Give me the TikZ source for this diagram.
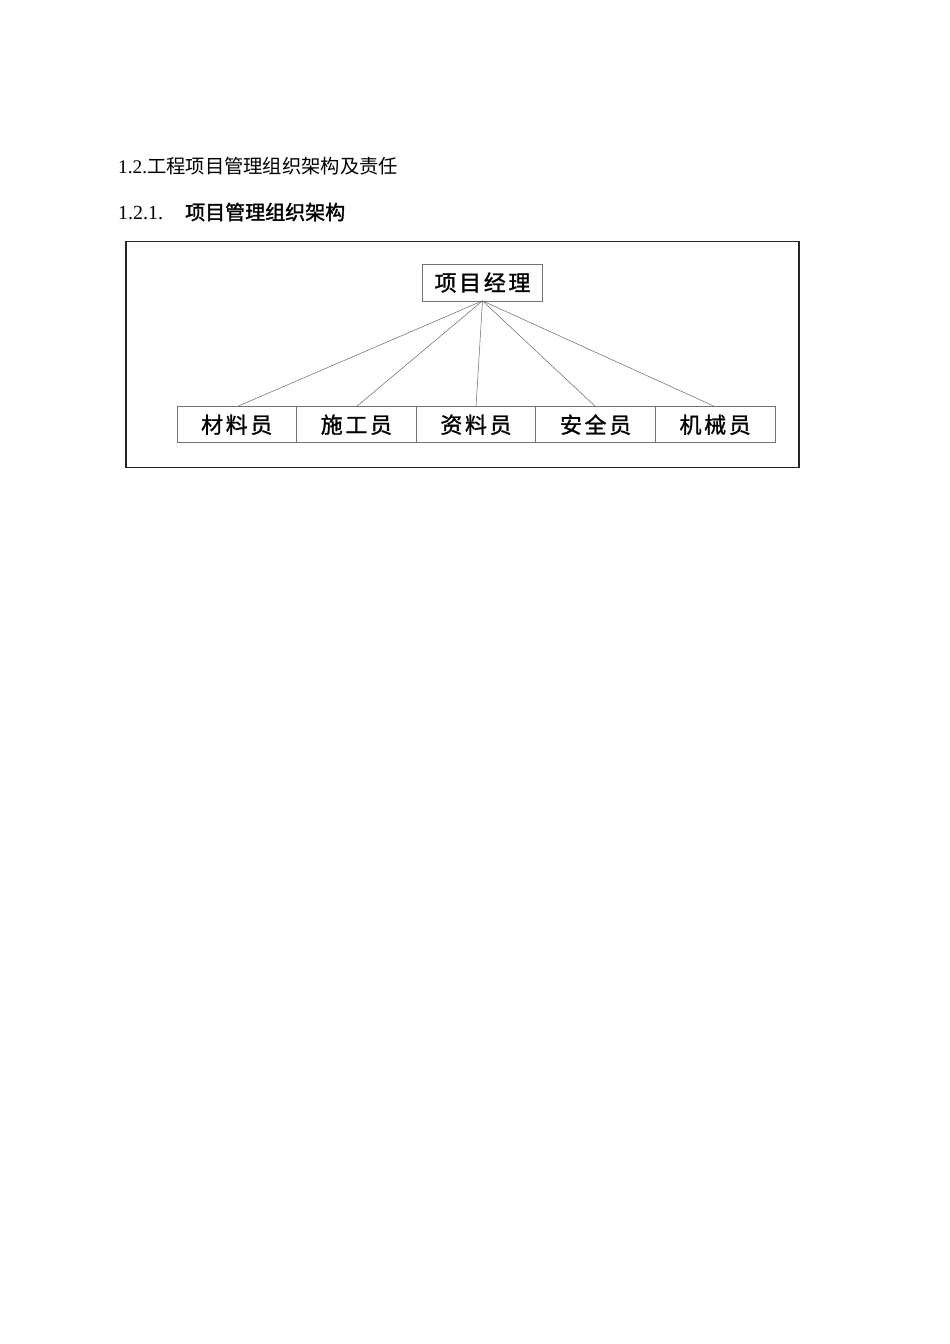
\documentclass[tikz,border=0pt]{standalone}
\usepackage{fontspec}
\setmainfont{Liberation Serif}
\newfontfamily\cjk{Noto Sans CJK SC}
\newfontfamily\cjkhead[FakeBold=1.6]{Noto Sans CJK SC}
\newfontfamily\boxcjk[LetterSpace=12,FakeBold=1.2]{Noto Sans CJK SC}
\usetikzlibrary{positioning}

\begin{document}
\begin{tikzpicture}[x=1pt,y=-1pt,
  post/.style={draw=black!55,line width=0.7pt,outer sep=0pt,inner sep=0pt,
    minimum width=119.6pt,minimum height=36pt,font=\boxcjk\fontsize{22}{22}\selectfont},
  link/.style={draw=black!60,line width=0.5pt}]
\useasboundingbox (0,0) rectangle (950,1344);

% Headings
\node[anchor=west,inner sep=0pt,font=\fontsize{19.3}{19.3}\selectfont] (h1) at (118,166)
  {1.2.{\cjk 工程项目管理组织架构及责任}};
\node[anchor=west,inner sep=0pt,font=\fontsize{20}{20}\selectfont] (h2) at (118,212)
  {1.2.1.\hspace{22pt}{\cjkhead 项目管理组织架构}};

% Frame
\draw[line width=1.3pt,black!85] (126,241.5) rectangle (799,467.5);

% Manager
\node[post,minimum width=120pt,minimum height=36.7pt] (pm) at (482.5,282.5) {项目经理};

% Staff row
\node[post] (cl) at (236.8,424.7) {材料员};
\node[post,right=0pt of cl] (sg) {施工员};
\node[post,right=0pt of sg] (zl) {资料员};
\node[post,right=0pt of zl] (aq) {安全员};
\node[post,right=0pt of aq] (jx) {机械员};

% Links
\draw[link] (pm.south) -- (cl.north);
\draw[link] (pm.south) -- (sg.north);
\draw[link] (pm.south) -- (zl.north);
\draw[link] (pm.south) -- (aq.north);
\draw[link] (pm.south) -- (jx.north);
\end{tikzpicture}
\end{document}
